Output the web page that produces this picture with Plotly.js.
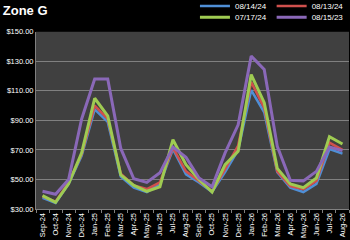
<!DOCTYPE html>
<html>
<head>
<meta charset="utf-8">
<script src="https://cdn.plot.ly/plotly-3.0.1.min.js"></script>
<style>html,body{margin:0;padding:0;background:#000;}#chart{width:350px;height:240px;}</style>
</head>
<body>
<div id="chart"></div>
<script>
var months = ['Sep-24','Oct-24','Nov-24','Dec-24','Jan-25','Feb-25','Mar-25','Apr-25','May-25','Jun-25','Jul-25','Aug-25','Sep-25','Oct-25','Nov-25','Dec-25','Jan-26','Feb-26','Mar-26','Apr-26','May-26','Jun-26','Jul-26','Aug-26'];
var s081424 = [37.5, 34, 47, 66, 97.5, 89, 52, 44.5, 41.5, 47, 70.5, 53.5, 48, 41.5, 55, 70, 110.5, 95.5, 55, 44.5, 41.5, 47, 70.5, 67.5];
var s081324 = [38.5, 35, 48, 67, 100, 91, 54, 46, 43.5, 48, 71.5, 55.5, 49, 42, 57, 73, 116, 98.5, 55.5, 45.5, 43.5, 49, 75, 70];
var s071724 = [39, 34.5, 47, 68, 105, 93, 53, 46, 42, 45, 77, 60, 50, 41.5, 60, 69, 121, 102, 57.5, 47, 44.5, 51, 79, 74];
var s081523 = [42, 40, 50, 91, 118, 118, 71, 50.5, 48, 54.5, 72, 65, 51, 45, 68, 87, 133.5, 124.5, 72.5, 49.5, 49, 55.5, 72, 69.5];
var yTicks = [30, 50, 70, 90, 110, 130, 150];
var yTickText = yTicks.map(function(v){ return '$' + v.toFixed(2); });

var traces = [
  {name:'08/14/24', x:months, y:s081424, type:'scatter', mode:'lines', line:{color:'#4F8FD6', width:2.5}, legend:'legend'},
  {name:'08/13/24', x:months, y:s081324, type:'scatter', mode:'lines', line:{color:'#D0504D', width:2.5}, legend:'legend'},
  {name:'07/17/24', x:months, y:s071724, type:'scatter', mode:'lines', line:{color:'#9FCB52', width:3}, legend:'legend2'},
  {name:'08/15/23', x:months, y:s081523, type:'scatter', mode:'lines', line:{color:'#8A68B8', width:3}, legend:'legend2'}
];

var legFont = {family:'Liberation Sans, Arial, sans-serif', size:8, color:'#ffffff'};
var layout = {
  width:350, height:240,
  paper_bgcolor:'#000000', plot_bgcolor:'#404040',
  margin:{l:36, r:1, t:24, b:31, pad:0},
  title:{text:'<b>Zone G</b>', x:0.008, xanchor:'left', xref:'container', y:0.955, yref:'container', yanchor:'middle',
         font:{family:'Liberation Sans, Arial, sans-serif', size:13, color:'#ffffff'}},
  showlegend:true,
  legend:{orientation:'h', xref:'container', yref:'container', x:0.997, xanchor:'right', y:0.975, yanchor:'middle',
          font:legFont, bgcolor:'rgba(0,0,0,0)', itemwidth:30, tracegroupgap:0},
  legend2:{orientation:'h', xref:'container', yref:'container', x:0.997, xanchor:'right', y:0.928, yanchor:'middle',
          font:legFont, bgcolor:'rgba(0,0,0,0)', itemwidth:30, tracegroupgap:0},
  xaxis:{type:'category', range:[-0.5, 23.5], tickangle:-90, showgrid:false,
         tickfont:{family:'Liberation Sans, Arial, sans-serif', size:7.5, color:'#ffffff'},
         ticks:'outside', ticklen:3, tickcolor:'#808080', tickson:'boundaries',
         showline:true, linecolor:'#808080', linewidth:1, fixedrange:true},
  yaxis:{range:[30, 150], tickvals:yTicks, ticktext:yTickText, showgrid:true, gridcolor:'#808080', gridwidth:1,
         tickfont:{family:'Liberation Sans, Arial, sans-serif', size:7.5, color:'#ffffff'},
         ticks:'', showline:true, linecolor:'#808080', linewidth:1, zeroline:false, fixedrange:true}
};
Plotly.newPlot('chart', traces, layout, {displayModeBar:false, staticPlot:true});
</script>
</body>
</html>
